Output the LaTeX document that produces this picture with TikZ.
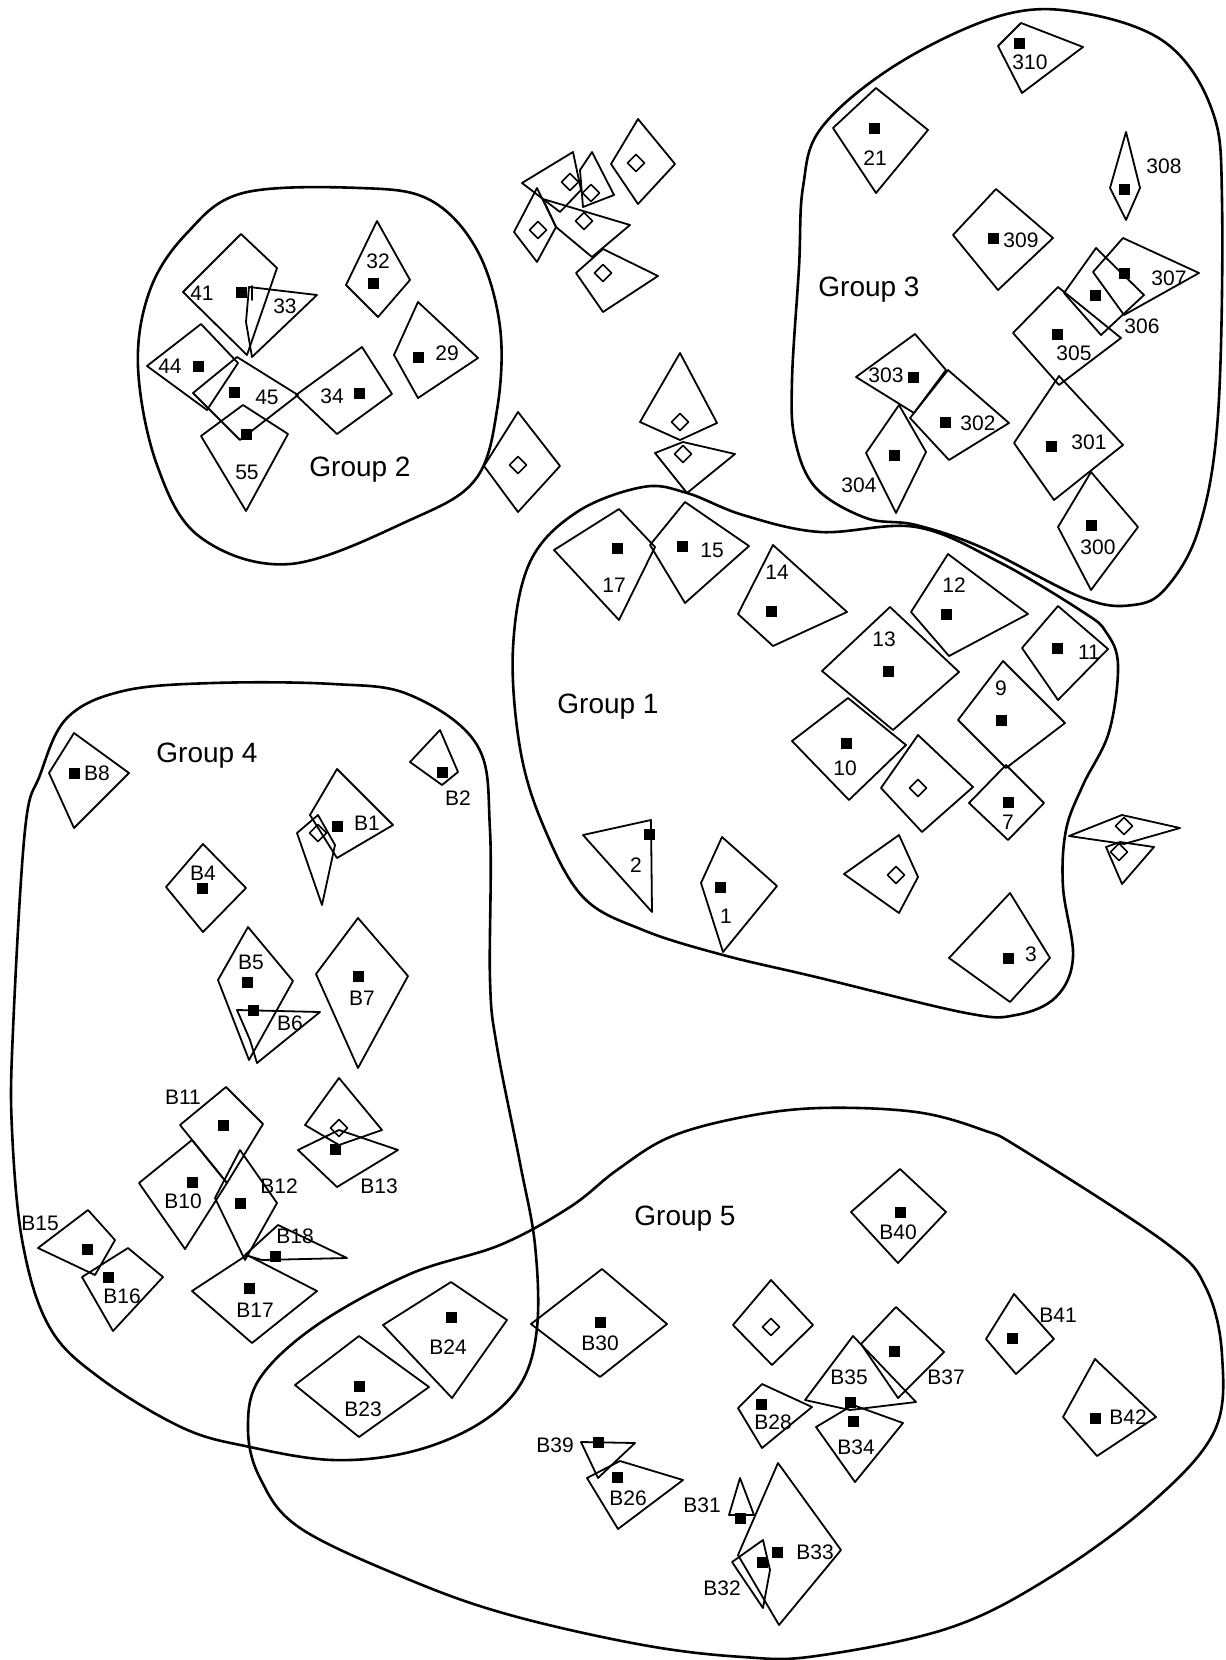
\documentclass[tikz,border=0pt]{standalone}
\usepackage{fontspec}
\setmainfont{Liberation Sans}
\usetikzlibrary{positioning}
\tikzset{
  cell/.style={draw,line width=1.8pt,line join=round},
  grp/.style={draw,line width=2.6pt},
  hit/.style={rectangle,fill=black,minimum size=11pt,inner sep=0pt},
  hollow/.style={rectangle,draw,line width=1.6pt,rotate=45,minimum size=12pt,inner sep=0pt},
  lbl/.style={font=\fontsize{21}{24}\selectfont,inner sep=0pt},
  grplbl/.style={font=\fontsize{28}{32}\selectfont,inner sep=0pt},
  every picture/.style={line cap=round,line join=round}
}

\begin{document}
\begin{tikzpicture}[x=1pt,y=-1pt]
  \useasboundingbox (0,0) rectangle (1226,1660);

  % group outlines
  \draw[grp] plot[smooth cycle,tension=0.6] coordinates {(243,193) (360,188) (430,200) (477,250) (500,327) (497,410) (475,480) (410,520) (290,564) (200,537) (157,465) (138,367) (150,290) (187,233)};
  \draw[grp] plot[smooth cycle,tension=0.6] coordinates {(899,63) (1003,15) (1083,13) (1166,43) (1212,110) (1222,200) (1218,415) (1199,528) (1166,588) (1133,605) (1083,598) (983,548) (916,525) (866,518) (816,488) (795,440) (792,380) (799,267) (803,187) (822,127)};
  \draw[grp] plot[smooth cycle,tension=0.6] coordinates {(520,748) (513,648) (530,562) (577,512) (643,487) (687,493) (743,515) (820,532) (916,527) (999,562) (1083,612) (1106,632) (1118,665) (1109,732) (1083,785) (1066,830) (1063,887) (1073,957) (1056,997) (1016,1015) (966,1013) (816,977) (723,955) (643,930) (583,897) (543,825)};
  \draw[grp] plot[smooth cycle,tension=0.6] coordinates {(123,691) (213,683) (333,684) (410,695) (477,745) (490,830) (490,980) (497,1047) (520,1163) (535,1245) (537,1328) (520,1385) (477,1425) (410,1452) (333,1460) (250,1447) (183,1428) (100,1378) (50,1328) (23,1245) (12,1130) (13,1030) (25,830) (40,775) (67,718)};
  \draw[grp] plot[smooth cycle,tension=0.6] coordinates {(410,1274) (500,1245) (570,1207) (617,1170) (670,1137) (743,1117) (820,1108) (916,1112) (983,1130) (1023,1150) (1166,1243) (1206,1288) (1222,1355) (1214,1432) (1149,1505) (1049,1578) (949,1628) (816,1656) (743,1657) (643,1645) (510,1615) (410,1580) (300,1528) (260,1478) (248,1428) (260,1378) (317,1325)};

  \node[grplbl] (g1) at (608,707) {Group 1};
  \node[grplbl] (g2) at (360,470) {Group 2};
  \node[grplbl] (g3) at (869,290) {Group 3};
  \node[grplbl] (g4) at (207,756) {Group 4};
  \node[grplbl] (g5) at (685,1219) {Group 5};

  % group 2
  \draw[cell] (241,234)--(277,268)--(247,355)--(183,292)--cycle;
  \node[hit] (m41) at (241,292) {}; \node[lbl] (l41) at (202,293) {41};
  \draw[cell] (249,287)--(317,295)--(252,357)--(246,322)--cycle;
  \draw[cell] (252,286)--(252,300);
  \node[lbl] (l33) at (285,306) {33};
  \draw[cell] (377,221)--(410,280)--(378,317)--(346,285)--cycle;
  \node[hit] (m32) at (373,283) {}; \node[lbl] (l32) at (378,261) {32};
  \draw[cell] (418,302)--(478,358)--(418,398)--(394,355)--cycle;
  \node[hit] (m29) at (418,357) {}; \node[lbl] (l29) at (447,353) {29};
  \draw[cell] (201,324)--(238,363)--(207,410)--(147,366)--cycle;
  \node[hit] (m44) at (198,366) {}; \node[lbl] (l44) at (170,366) {44};
  \draw[cell] (193,393)--(237,357)--(298,395)--(240,440)--cycle;
  \node[hit] (m45) at (234,392) {}; \node[lbl] (l45) at (267,397) {45};
  \draw[cell] (201,436)--(243,405)--(288,434)--(246,511)--cycle;
  \node[hit] (m55) at (246,434) {}; \node[lbl] (l55) at (247,472) {55};
  \draw[cell] (296,395)--(362,347)--(392,394)--(337,434)--cycle;
  \node[hit] (m34) at (359,393) {}; \node[lbl] (l34) at (332,396) {34};

  % unassigned sites
  \draw[cell] (522,183)--(573,152)--(581,190)--(560,212)--cycle;
  \node[hollow] (hA) at (570,182) {};
  \draw[cell] (592,152)--(614,195)--(583,207)--(580,170)--cycle;
  \node[hollow] (hB) at (591,193) {};
  \draw[cell] (638,119)--(675,164)--(638,204)--(611,164)--cycle;
  \node[hollow] (hC) at (636,163) {};
  \draw[cell] (537,188)--(556,227)--(537,262)--(514,232)--cycle;
  \node[hollow] (hD) at (538,230) {};
  \draw[cell] (543,199)--(630,225)--(592,257)--(556,227)--cycle;
  \node[hollow] (hE) at (584,221) {};
  \draw[cell] (576,273)--(603,249)--(658,276)--(603,312)--cycle;
  \node[hollow] (hF) at (603,273) {};
  \draw[cell] (518,412)--(560,466)--(518,512)--(484,466)--cycle;
  \node[hollow] (hG) at (518,465) {};
  \draw[cell] (680,353)--(717,423)--(680,440)--(640,422)--cycle;
  \node[hollow] (hH) at (680,422) {};
  \draw[cell] (655,453)--(683,442)--(735,454)--(687,493)--cycle;
  \node[hollow] (hI) at (683,454) {};
  \draw[cell] (1069,836)--(1122,815)--(1180,828)--(1124,844)--cycle;
  \node[hollow] (hL) at (1124,826) {};
  \draw[cell] (1106,847)--(1120,842)--(1154,847)--(1122,884)--cycle;
  \node[hollow] (hN) at (1119,852) {};

  % group 3
  \draw[cell] (998,46)--(1021,23)--(1083,47)--(1022,93)--cycle;
  \node[hit] (m310) at (1019,43) {}; \node[lbl] (l310) at (1030,62) {310};
  \draw[cell] (876,88)--(928,130)--(876,193)--(833,128)--cycle;
  \node[hit] (m21) at (874,128) {}; \node[lbl] (l21) at (875,158) {21};
  \draw[cell] (1126,132)--(1140,188)--(1126,220)--(1110,188)--cycle;
  \node[hit] (m308) at (1124,189) {}; \node[lbl] (l308) at (1164,166) {308};
  \draw[cell] (996,189)--(1053,238)--(998,290)--(953,235)--cycle;
  \node[hit] (m309) at (993,238) {}; \node[lbl] (l309) at (1021,240) {309};
  \draw[cell] (1093,272)--(1123,238)--(1199,273)--(1124,315)--cycle;
  \node[hit] (m307) at (1124,273) {}; \node[lbl] (l307) at (1169,278) {307};
  \draw[cell] (1064,293)--(1096,248)--(1144,295)--(1101,335)--cycle;
  \node[hit] (m306) at (1095,295) {}; \node[lbl] (l306) at (1142,326) {306};
  \draw[cell] (1013,333)--(1058,287)--(1121,338)--(1059,385)--cycle;
  \node[hit] (m305) at (1057,334) {}; \node[lbl] (l305) at (1074,353) {305};
  \draw[cell] (856,377)--(915,334)--(946,370)--(914,413)--cycle;
  \node[hit] (m303) at (913,377) {}; \node[lbl] (l303) at (886,375) {303};
  \draw[cell] (910,418)--(948,370)--(1009,423)--(949,460)--cycle;
  \node[hit] (m302) at (945,422) {}; \node[lbl] (l302) at (978,423) {302};
  \draw[cell] (866,453)--(899,405)--(926,452)--(896,513)--cycle;
  \node[hit] (m304) at (894,455) {}; \node[lbl] (l304) at (859,485) {304};
  \draw[cell] (1014,443)--(1059,376)--(1123,445)--(1054,500)--cycle;
  \node[hit] (m301) at (1051,446) {}; \node[lbl] (l301) at (1089,442) {301};
  \draw[cell] (1058,527)--(1091,472)--(1138,527)--(1091,590)--cycle;
  \node[hit] (m300) at (1091,525) {}; \node[lbl] (l300) at (1098,547) {300};

  % group 1
  \draw[cell] (554,550)--(619,509)--(655,547)--(619,620)--cycle;
  \node[hit] (m17) at (617,548) {}; \node[lbl] (l17) at (614,585) {17};
  \draw[cell] (650,545)--(685,502)--(749,546)--(685,603)--cycle;
  \node[hit] (m15) at (682,546) {}; \node[lbl] (l15) at (712,550) {15};
  \draw[cell] (738,614)--(773,545)--(847,612)--(773,646)--cycle;
  \node[hit] (m14) at (771,611) {}; \node[lbl] (l14) at (777,572) {14};
  \draw[cell] (911,612)--(948,554)--(1028,614)--(949,656)--cycle;
  \node[hit] (m12) at (946,614) {}; \node[lbl] (l12) at (954,585) {12};
  \draw[cell] (822,671)--(890,607)--(959,672)--(893,730)--cycle;
  \node[hit] (m13) at (888,671) {}; \node[lbl] (l13) at (884,639) {13};
  \draw[cell] (1022,648)--(1058,606)--(1108,649)--(1058,700)--cycle;
  \node[hit] (m11) at (1057,648) {}; \node[lbl] (l11) at (1089,652) {11};
  \draw[cell] (958,720)--(1003,661)--(1065,723)--(1006,768)--cycle;
  \node[hit] (m9) at (1001,720) {}; \node[lbl] (l9) at (1001,688) {9};
  \draw[cell] (792,741)--(848,698)--(906,745)--(849,800)--cycle;
  \node[hit] (m10) at (846,743) {}; \node[lbl] (l10) at (845,768) {10};
  \draw[cell] (881,788)--(918,735)--(973,787)--(922,832)--cycle;
  \node[hollow] (hJ) at (918,788) {};
  \draw[cell] (969,803)--(1006,765)--(1044,803)--(1008,840)--cycle;
  \node[hit] (m7) at (1008,802) {}; \node[lbl] (l7) at (1008,822) {7};
  \draw[cell] (583,835)--(651,820)--(652,912)--cycle;
  \node[hit] (m2) at (649,834) {}; \node[lbl] (l2) at (636,865) {2};
  \draw[cell] (701,883)--(722,837)--(777,886)--(723,952)--cycle;
  \node[hit] (m1) at (720,887) {}; \node[lbl] (l1) at (726,916) {1};
  \draw[cell] (844,874)--(899,835)--(918,877)--(899,913)--cycle;
  \node[hollow] (hK) at (896,875) {};
  \draw[cell] (949,958)--(1010,893)--(1050,958)--(1010,1002)--cycle;
  \node[hit] (m3) at (1008,958) {}; \node[lbl] (l3) at (1031,954) {3};

  % group 4
  \draw[cell] (74,733)--(129,773)--(74,828)--(49,773)--cycle;
  \node[hit] (mB8) at (74,773) {}; \node[lbl] (lB8) at (97,773) {B8};
  \draw[cell] (440,730)--(458,772)--(442,785)--(410,762)--cycle;
  \node[hit] (mB2) at (442,772) {}; \node[lbl] (lB2) at (458,798) {B2};
  \draw[cell] (337,769)--(393,825)--(337,858)--(310,815)--cycle;
  \node[hit] (mB1) at (337,826) {}; \node[lbl] (lB1) at (367,823) {B1};
  \draw[cell] (297,833)--(318,815)--(335,845)--(322,905)--cycle;
  \node[hollow] (hB1) at (318,833) {};
  \draw[cell] (166,887)--(203,844)--(246,888)--(203,932)--cycle;
  \node[hit] (mB4) at (202,888) {}; \node[lbl] (lB4) at (203,873) {B4};
  \draw[cell] (218,980)--(248,927)--(293,981)--(249,1060)--cycle;
  \node[hit] (mB5) at (247,982) {}; \node[lbl] (lB5) at (251,962) {B5};
  \draw[cell] (237,1010)--(320,1012)--(257,1063)--(250,1040)--cycle;
  \node[hit] (mB6) at (253,1010) {}; \node[lbl] (lB6) at (290,1023) {B6};
  \draw[cell] (316,974)--(358,918)--(408,976)--(358,1068)--cycle;
  \node[hit] (mB7) at (358,976) {}; \node[lbl] (lB7) at (362,998) {B7};
  \draw[cell] (180,1125)--(226,1087)--(263,1124)--(227,1183)--cycle;
  \node[hit] (mB11) at (223,1125) {}; \node[lbl] (lB11) at (183,1097) {B11};
  \draw[cell] (305,1125)--(339,1078)--(382,1130)--(339,1145)--cycle;
  \node[hollow] (hB13) at (339,1128) {};
  \draw[cell] (298,1150)--(339,1130)--(398,1150)--(337,1187)--cycle;
  \node[hit] (mB13) at (335,1149) {}; \node[lbl] (lB13) at (379,1186) {B13};
  \draw[cell] (139,1183)--(192,1140)--(227,1183)--(185,1249)--cycle;
  \node[hit] (mB10) at (192,1182) {}; \node[lbl] (lB10) at (183,1201) {B10};
  \draw[cell] (215,1198)--(240,1150)--(277,1203)--(245,1260)--cycle;
  \node[hit] (mB12) at (240,1203) {}; \node[lbl] (lB12) at (279,1186) {B12};
  \draw[cell] (245,1255)--(278,1225)--(347,1258)--(262,1260)--cycle;
  \node[hit] (mB18) at (275,1256) {}; \node[lbl] (lB18) at (295,1236) {B18};
  \draw[cell] (38,1248)--(88,1210)--(115,1240)--(95,1275)--cycle;
  \node[hit] (mB15) at (87,1249) {}; \node[lbl] (lB15) at (40,1223) {B15};
  \draw[cell] (82,1277)--(128,1248)--(163,1277)--(113,1331)--cycle;
  \node[hit] (mB16) at (108,1277) {}; \node[lbl] (lB16) at (122,1296) {B16};
  \draw[cell] (192,1291)--(247,1255)--(317,1291)--(252,1343)--cycle;
  \node[hit] (mB17) at (249,1288) {}; \node[lbl] (lB17) at (255,1310) {B17};
  \draw[cell] (295,1385)--(359,1336)--(429,1387)--(359,1437)--cycle;
  \node[hit] (mB23) at (359,1386) {}; \node[lbl] (lB23) at (363,1409) {B23};
  \draw[cell] (383,1325)--(451,1282)--(507,1320)--(452,1398)--cycle;
  \node[hit] (mB24) at (451,1317) {}; \node[lbl] (lB24) at (448,1347) {B24};

  % group 5
  \draw[cell] (531,1324)--(602,1269)--(667,1324)--(600,1377)--cycle;
  \node[hit] (mB30) at (600,1322) {}; \node[lbl] (lB30) at (600,1343) {B30};
  \draw[cell] (733,1325)--(771,1280)--(813,1325)--(772,1365)--cycle;
  \node[hollow] (hM) at (771,1327) {};
  \draw[cell] (851,1212)--(900,1169)--(946,1212)--(898,1263)--cycle;
  \node[hit] (mB40) at (900,1212) {}; \node[lbl] (lB40) at (898,1232) {B40};
  \draw[cell] (738,1408)--(762,1384)--(812,1407)--(762,1448)--cycle;
  \node[hit] (mB28) at (761,1404) {}; \node[lbl] (lB28) at (773,1422) {B28};
  \draw[cell] (581,1442)--(635,1443)--(598,1478)--cycle;
  \node[hit] (mB39) at (598,1442) {}; \node[lbl] (lB39) at (555,1445) {B39};
  \draw[cell] (587,1478)--(620,1461)--(683,1480)--(618,1529)--cycle;
  \node[hit] (mB26) at (617,1477) {}; \node[lbl] (lB26) at (628,1498) {B26};
  \draw[cell] (729,1515)--(740,1478)--(754,1515)--cycle;
  \node[hit] (mB31) at (740,1518) {}; \node[lbl] (lB31) at (702,1505) {B31};
  \draw[cell] (738,1555)--(778,1463)--(841,1550)--(779,1625)--cycle;
  \node[hit] (mB33) at (777,1552) {}; \node[lbl] (lB33) at (815,1552) {B33};
  \draw[cell] (732,1562)--(763,1540)--(770,1570)--(763,1608)--cycle;
  \node[hit] (mB32) at (762,1562) {}; \node[lbl] (lB32) at (722,1588) {B32};
  \draw[cell] (861,1344)--(896,1307)--(944,1352)--(898,1398)--cycle;
  \node[hit] (mB37) at (894,1351) {}; \node[lbl] (lB37) at (946,1377) {B37};
  \draw[cell] (805,1400)--(853,1336)--(916,1402)--(850,1410)--cycle;
  \node[hit] (mB35) at (850,1402) {}; \node[lbl] (lB35) at (849,1377) {B35};
  \draw[cell] (816,1427)--(853,1405)--(903,1423)--(855,1482)--cycle;
  \node[hit] (mB34) at (853,1421) {}; \node[lbl] (lB34) at (856,1447) {B34};
  \draw[cell] (986,1339)--(1014,1294)--(1054,1339)--(1016,1374)--cycle;
  \node[hit] (mB41) at (1012,1338) {}; \node[lbl] (lB41) at (1058,1315) {B41};
  \draw[cell] (1063,1417)--(1095,1359)--(1156,1417)--(1097,1456)--cycle;
  \node[hit] (mB42) at (1095,1418) {}; \node[lbl] (lB42) at (1128,1417) {B42};
\end{tikzpicture}
\end{document}
